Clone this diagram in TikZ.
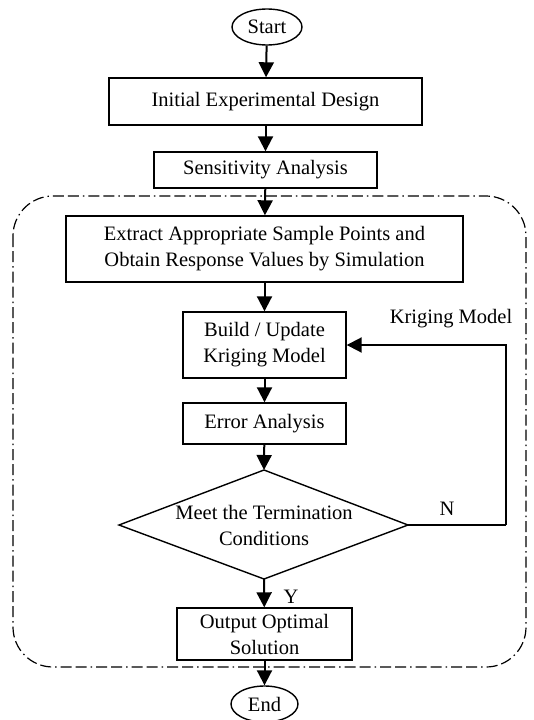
\documentclass[tikz,border=0pt]{standalone}
\usepackage{fontspec}
\setmainfont{Liberation Serif}
\usetikzlibrary{arrows.meta,shapes.geometric}
\begin{document}
\begin{tikzpicture}[x=1pt,y=-1pt,
  txt/.style={font=\fontsize{20.5}{26}\selectfont},
  box/.style={txt,draw,line width=1.4pt,inner sep=0pt,align=center},
  term/.style={txt,draw,ellipse,line width=1.4pt,inner sep=0pt},
  arr/.style={line width=2pt,-{Triangle[length=15pt,width=15pt]}},
  fline/.style={line width=2pt},
  loopline/.style={line width=1.2pt,dash pattern=on 11pt off 4pt on 11pt off 4pt on 1.5pt off 4pt}]
\useasboundingbox (0,0) rectangle (534,720);
\draw[loopline,rounded corners=40pt] (13,196) rectangle (526,667);
\node[term,minimum width=70pt,minimum height=36pt] (start) at (267,27) {Start};
\node[box,minimum width=313pt,minimum height=47pt] (init) at (265.5,101.5) {Initial Experimental Design};
\node[box,minimum width=223pt,minimum height=36pt] (sens) at (265.5,170) {Sensitivity Analysis};
\node[box,minimum width=397pt,minimum height=66pt] (extract) at (264.5,249) {Extract Appropriate Sample Points and\\Obtain Response Values by Simulation};
\node[box,minimum width=163pt,minimum height=66pt] (build) at (264.5,345) {Build / Update\\Kriging Model};
\node[box,minimum width=163pt,minimum height=41pt] (error) at (264.5,423.5) {Error Analysis};
\node[txt,align=center,inner sep=0pt] (dec) at (264,525) {Meet the Termination\\Conditions};
\coordinate (dtop) at (264,470);
\coordinate (dbot) at (264,579);
\coordinate (dleft) at (119,525);
\coordinate (dright) at (408,525);
\draw[line width=1.4pt] (dtop) -- (dright) -- (dbot) -- (dleft) -- cycle;
\node[box,minimum width=175pt,minimum height=52pt] (out) at (264.5,634) {Output Optimal\\Solution};
\node[term,minimum width=67pt,minimum height=36pt] (end) at (264.5,704) {End};
\node[txt] (km) at (451,319) {Kriging Model};
\node[txt] (nlab) at (447,509) {N};
\node[txt] (ylab) at (291,597) {Y};
\coordinate (fb) at (506,525);
\draw[arr] (start) -- (init);
\draw[arr] (init) -- (sens);
\draw[arr] (sens) -- (extract);
\draw[arr] (extract) -- (build);
\draw[arr] (build) -- (error);
\draw[arr] (error) -- (dtop);
\draw[arr] (dbot) -- (out);
\draw[arr] (out) -- (end);
\draw[fline] (dright) -- (fb);
\draw[arr] (fb) |- (build.east);
\end{tikzpicture}
\end{document}
